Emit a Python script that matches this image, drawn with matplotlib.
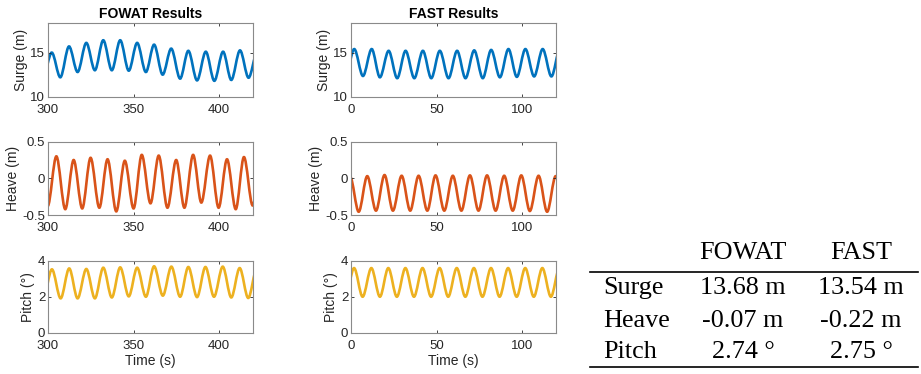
import numpy as np
import matplotlib
matplotlib.use("Agg")
import matplotlib.pyplot as plt
from matplotlib.path import Path
from matplotlib.patches import PathPatch
from matplotlib.lines import Line2D

# extrema of each time series (time, value)
fowat_surge_t = [297.2, 302.2, 307.2, 312.3, 317.3, 322.4, 327.4, 332.3, 337.3, 342.2, 347.2, 352.1, 357.2,
                 362.0, 367.0, 372.0, 377.2, 382.0, 387.1, 392.2, 397.2, 402.3, 407.1, 412.2, 417.2, 422.2]
fowat_surge_y = [12.3, 15.0, 12.2, 15.7, 12.8, 16.1, 13.0, 16.4, 13.0, 16.4, 12.95, 16.1, 12.8,
                 15.9, 12.5, 15.45, 12.05, 15.2, 11.85, 15.1, 11.8, 15.1, 11.9, 15.25, 12.15, 15.0]
fast_surge_t = [-3.1, 1.9, 7.0, 12.1, 16.9, 22.0, 27.0, 31.9, 37.0, 42.0, 46.9, 51.9, 57.0,
                62.0, 66.9, 72.0, 77.0, 81.9, 87.0, 92.0, 96.9, 101.9, 107.0, 112.0, 117.1, 122.1]
fast_surge_y = [12.4, 15.4, 12.35, 15.4, 12.2, 15.2, 12.1, 15.2, 12.1, 15.2, 12.1, 15.2, 12.1,
                15.2, 12.1, 15.25, 12.1, 15.3, 12.2, 15.4, 12.25, 15.4, 12.3, 15.4, 12.3, 15.4]

fowat_heave_t = [299.8, 304.9, 310.1, 315.0, 320.0, 324.9, 330.0, 334.8, 339.9, 344.9, 350.0, 354.8, 359.9,
                 364.7, 369.8, 374.9, 379.7, 384.8, 389.6, 394.7, 399.7, 404.6, 409.7, 414.5, 419.6, 424.6]
fowat_heave_y = [-0.38, 0.30, -0.42, 0.25, -0.41, 0.28, -0.40, 0.26, -0.45, 0.24, -0.41, 0.32, -0.34,
                 0.31, -0.40, 0.25, -0.40, 0.32, -0.33, 0.31, -0.40, 0.26, -0.42, 0.29, -0.37, 0.28]
fast_heave_t = [-0.5, 4.5, 9.5, 14.6, 19.6, 24.5, 29.6, 34.6, 39.5, 44.6, 49.4, 54.5, 59.5,
                64.5, 69.5, 74.5, 79.5, 84.5, 89.5, 94.5, 99.5, 104.5, 109.6, 114.6, 119.6, 124.6]
fast_heave_y = [0.02, -0.455, 0.03, -0.44, 0.045, -0.44, 0.035, -0.44, 0.035, -0.44, 0.04, -0.44, 0.035,
                -0.44, 0.04, -0.44, 0.04, -0.44, 0.035, -0.44, 0.04, -0.445, 0.035, -0.455, 0.03, -0.45]

fowat_pitch_t = [297.3, 302.3, 307.4, 312.4, 317.3, 322.4, 327.4, 332.3, 337.3, 342.2, 347.2, 352.1, 357.2,
                 362.0, 367.1, 372.1, 377.2, 382.0, 387.1, 392.0, 397.0, 402.1, 407.1, 412.0, 417.0, 422.0]
fowat_pitch_y = [1.95, 3.52, 1.91, 3.57, 1.91, 3.54, 1.91, 3.61, 1.96, 3.63, 2.02, 3.61, 2.00,
                 3.69, 2.06, 3.67, 2.00, 3.65, 1.98, 3.65, 2.00, 3.67, 1.96, 3.59, 1.93, 3.55]
fast_pitch_t = [-3.2, 1.8, 6.8, 11.9, 16.9, 21.8, 26.8, 31.8, 36.8, 41.8, 46.8, 51.8, 56.8,
                61.8, 66.8, 71.8, 76.8, 81.8, 86.8, 91.8, 96.8, 101.8, 106.8, 111.8, 116.8, 121.8]
fast_pitch_y = [2.0, 3.59, 2.0, 3.59, 2.0, 3.59, 2.0, 3.59, 2.0, 3.59, 2.0, 3.59, 2.0,
                3.59, 2.0, 3.59, 2.0, 3.59, 2.0, 3.59, 2.0, 3.59, 2.0, 3.59, 2.0, 3.59]

# mean values table
table_cols = ["FOWAT", "FAST"]
table_rows = ["Surge", "Heave", "Pitch"]
table_vals = [["13.68 m", "13.54 m"], ["-0.07 m", "-0.22 m"], ["2.74 \u00b0", "2.75 \u00b0"]]

blue, orange, yellow = "#0072BD", "#D95319", "#EDB120"

plt.rcParams['font.family'] = ['Liberation Sans', 'DejaVu Sans']
plt.rcParams['font.size'] = 10


def smooth_path(t, y):
    # cubic bezier between extrema with flat tangents at each extremum
    verts = [(t[0], y[0])]
    codes = [Path.MOVETO]
    for i in range(len(t) - 1):
        dt = t[i + 1] - t[i]
        verts += [(t[i] + dt / 3, y[i]), (t[i + 1] - dt / 3, y[i + 1]), (t[i + 1], y[i + 1])]
        codes += [Path.CURVE4] * 3
    return Path(verts, codes)


def style(ax, xlim, ylim, yticks, xticks, ylabel):
    ax.set_xlim(xlim)
    ax.set_ylim(ylim)
    ax.set_yticks(yticks)
    ax.set_xticks(xticks)
    ax.set_ylabel(ylabel, color='#262626', fontsize=10, labelpad=2)
    ax.tick_params(direction='in', top=True, right=True, length=2.5, width=0.6,
                   colors='#262626', labelsize=9.5)
    ax.tick_params(axis='x', pad=5)
    ax.tick_params(axis='y', pad=2)
    for s in ax.spines.values():
        s.set_color('#8a8a8a')
        s.set_linewidth(0.8)


fig = plt.figure(figsize=(9.21, 3.74), dpi=100)

lefts = [0.0521, 0.3811]
width = 0.2230
bottoms = [0.7415, 0.4251, 0.1104]
heights = [0.198, 0.196, 0.1925]

series = [
    [(fowat_surge_t, fowat_surge_y), (fast_surge_t, fast_surge_y)],
    [(fowat_heave_t, fowat_heave_y), (fast_heave_t, fast_heave_y)],
    [(fowat_pitch_t, fowat_pitch_y), (fast_pitch_t, fast_pitch_y)],
]
colors = [blue, orange, yellow]
ylims = [(10, 18.4), (-0.5, 0.5), (0, 4)]
yticks = [[10, 15], [-0.5, 0, 0.5], [0, 2, 4]]
ylabels = ["Surge (m)", "Heave (m)", "Pitch (\u00b0)"]
xlims = [(300, 420), (0, 120)]
xticks = [[300, 350, 400], [0, 50, 100]]
titles = ["FOWAT Results", "FAST Results"]

for r in range(3):
    for c in range(2):
        ax = fig.add_axes([lefts[c], bottoms[r], width, heights[r]])
        t, y = series[r][c]
        ax.add_patch(PathPatch(smooth_path(t, y), fill=False, edgecolor=colors[r], lw=1.9))
        style(ax, xlims[c], ylims[r], yticks[r], xticks[c], ylabels[r])
        ax.set_yticklabels([f"{v:g}" for v in yticks[r]])
        if r == 0:
            ax.set_title(titles[c], fontsize=10, fontweight='bold', pad=3)
        if r == 2:
            ax.set_xlabel("Time (s)", color='#262626', fontsize=10, labelpad=2)

# results table on the right
serif = ['Liberation Serif', 'DejaVu Serif']
tfs = 18.8
col_x = [0.8067, 0.9348]
row_y = [0.2131, 0.1265, 0.0420]
for j, name in enumerate(table_cols):
    fig.text(col_x[j], 0.3067, name, family=serif, fontsize=tfs, ha='center', va='baseline')
for i, name in enumerate(table_rows):
    fig.text(0.6547, row_y[i], name, family=serif, fontsize=tfs, ha='left', va='baseline')
    for j in range(2):
        fig.text(col_x[j], row_y[i], table_vals[i][j], family=serif, fontsize=tfs,
                 ha='center', va='baseline')
fig.add_artist(Line2D([0.6406, 0.9967], [0.2735, 0.2735], color='black', lw=1.2))
fig.add_artist(Line2D([0.6406, 0.9967], [0.0195, 0.0195], color='black', lw=1.2))

fig.savefig("out.png", dpi=100)
